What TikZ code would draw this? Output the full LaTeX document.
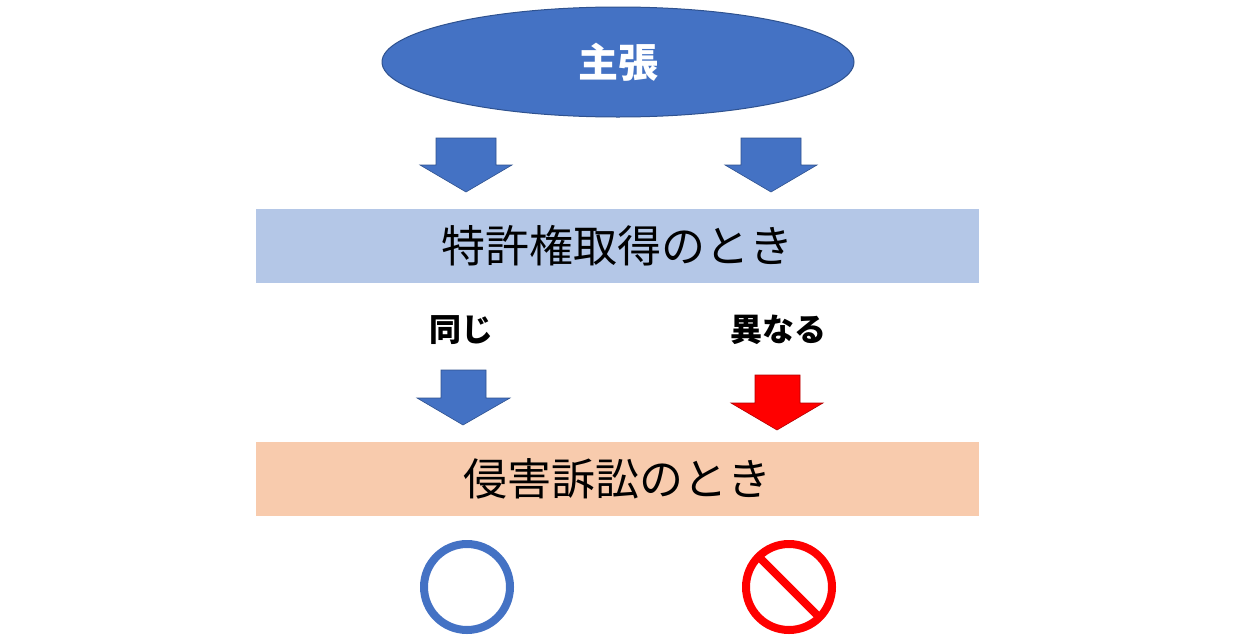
\documentclass[tikz,border=0pt]{standalone}
\usepackage{fontspec}
\setmainfont{Noto Sans CJK JP}
\usetikzlibrary{shapes.geometric}
\definecolor{bl}{HTML}{4472C4}
\definecolor{bld}{HTML}{2F528F}
\definecolor{lb}{HTML}{B4C7E7}
\definecolor{lo}{HTML}{F8CBAD}
\tikzset{
 barr/.style={fill=bl,draw=bld,line width=0.6pt},
 rarr/.style={fill=red,draw=red!70!black,line width=0.6pt},
 bigtxt/.style={font=\fontsize{44}{50}\selectfont},
 lbl/.style={font=\fontsize{32}{38}\selectfont\bfseries}
}
\begin{document}
\begin{tikzpicture}[x=1pt,y=1pt]
\useasboundingbox (0,0) rectangle (1241,-640);
\node[ellipse,fill=bl,draw=bld,line width=1pt,minimum width=472,minimum height=110,inner sep=0,text=white,font=\fontsize{40}{46}\selectfont\bfseries] (claim) at (618,-62) {主張};
\node[fill=lb,minimum width=723,minimum height=74,inner sep=0,bigtxt] (patent) at (617.5,-246) {特許権取得のとき};
\node[fill=lo,minimum width=723,minimum height=74,inner sep=0,bigtxt] (suit) at (617.5,-479) {侵害訴訟のとき};
\node[lbl] (same) at (461,-330) {同じ};
\node[lbl] (diff) at (778,-330) {異なる};
\draw[barr] (436,-138) -- (496,-138) -- (496,-165) -- (512,-165) -- (466,-192) -- (420,-165) -- (436,-165) -- cycle;
\draw[barr] (741,-138) -- (801,-138) -- (801,-165) -- (817,-165) -- (771,-192) -- (725,-165) -- (741,-165) -- cycle;
\draw[barr] (441,-370) -- (486,-370) -- (486,-398) -- (510,-398) -- (463,-425) -- (417,-398) -- (441,-398) -- cycle;
\draw[rarr] (755,-375) -- (800,-375) -- (800,-403) -- (823,-403) -- (777,-430) -- (731,-403) -- (755,-403) -- cycle;
\draw[bl,line width=8pt] (467,-587) circle (43);
\draw[red,line width=8pt] (789,-587) circle (43);
\draw[red,line width=8pt] (789,-587) ++(135:43) -- ++(-45:86);
\end{tikzpicture}
\end{document}
